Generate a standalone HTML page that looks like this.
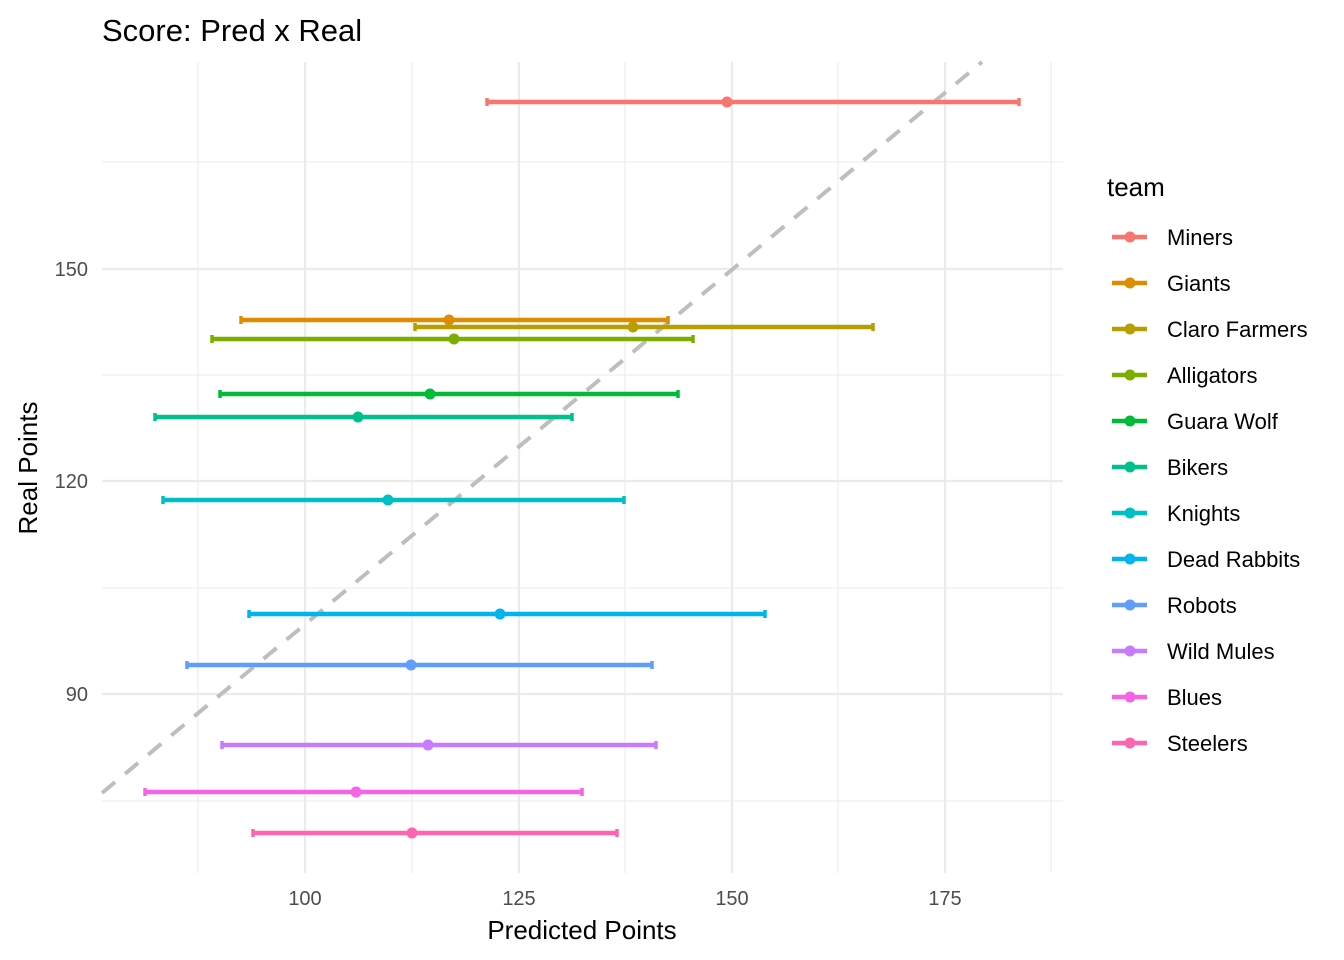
<!DOCTYPE html>
<html><head><meta charset="utf-8"><style>
html,body{margin:0;padding:0;background:#fff;}
svg{display:block;font-family:"Liberation Sans",Arial,sans-serif;}
</style></head><body>
<svg width="1344" height="960" viewBox="0 0 1344 960" xmlns="http://www.w3.org/2000/svg">
<rect width="1344" height="960" fill="#fff"/>
<g stroke="#ebebeb" stroke-width="1.1">
<line x1="198" y1="62" x2="198" y2="873"/><line x1="412" y1="62" x2="412" y2="873"/><line x1="625" y1="62" x2="625" y2="873"/><line x1="838" y1="62" x2="838" y2="873"/><line x1="1051" y1="62" x2="1051" y2="873"/>
<line x1="102" y1="162" x2="1063" y2="162"/><line x1="102" y1="375" x2="1063" y2="375"/><line x1="102" y1="588" x2="1063" y2="588"/><line x1="102" y1="801" x2="1063" y2="801"/>
</g>
<g stroke="#ebebeb" stroke-width="2.2">
<line x1="305" y1="62" x2="305" y2="873"/><line x1="519" y1="62" x2="519" y2="873"/><line x1="732" y1="62" x2="732" y2="873"/><line x1="945" y1="62" x2="945" y2="873"/>
<line x1="102" y1="269" x2="1063" y2="269"/><line x1="102" y1="481" x2="1063" y2="481"/><line x1="102" y1="694" x2="1063" y2="694"/>
</g>
<line x1="102" y1="793" x2="982" y2="62" stroke="#bebebe" stroke-width="4" stroke-dasharray="17,13"/>
<g stroke-width="4.5">
<g stroke="#F8766D" fill="#F8766D"><line x1="487" y1="102" x2="1019" y2="102"/><line x1="487" y1="98" x2="487" y2="106" stroke-width="3.5"/><line x1="1019" y1="98" x2="1019" y2="106" stroke-width="3.5"/><circle cx="727" cy="102" r="5.5" stroke="none"/></g>
<g stroke="#DE8C00" fill="#DE8C00"><line x1="241" y1="320" x2="668" y2="320"/><line x1="241" y1="316" x2="241" y2="324" stroke-width="3.5"/><line x1="668" y1="316" x2="668" y2="324" stroke-width="3.5"/><circle cx="449" cy="320" r="5.5" stroke="none"/></g>
<g stroke="#B79F00" fill="#B79F00"><line x1="415" y1="327" x2="873" y2="327"/><line x1="415" y1="323" x2="415" y2="331" stroke-width="3.5"/><line x1="873" y1="323" x2="873" y2="331" stroke-width="3.5"/><circle cx="633" cy="327" r="5.5" stroke="none"/></g>
<g stroke="#7CAE00" fill="#7CAE00"><line x1="212" y1="339" x2="693" y2="339"/><line x1="212" y1="335" x2="212" y2="343" stroke-width="3.5"/><line x1="693" y1="335" x2="693" y2="343" stroke-width="3.5"/><circle cx="454" cy="339" r="5.5" stroke="none"/></g>
<g stroke="#00BA38" fill="#00BA38"><line x1="220" y1="394" x2="678" y2="394"/><line x1="220" y1="390" x2="220" y2="398" stroke-width="3.5"/><line x1="678" y1="390" x2="678" y2="398" stroke-width="3.5"/><circle cx="430" cy="394" r="5.5" stroke="none"/></g>
<g stroke="#00C08B" fill="#00C08B"><line x1="155" y1="417" x2="572" y2="417"/><line x1="155" y1="413" x2="155" y2="421" stroke-width="3.5"/><line x1="572" y1="413" x2="572" y2="421" stroke-width="3.5"/><circle cx="358" cy="417" r="5.5" stroke="none"/></g>
<g stroke="#00BFC4" fill="#00BFC4"><line x1="163" y1="500" x2="624" y2="500"/><line x1="163" y1="496" x2="163" y2="504" stroke-width="3.5"/><line x1="624" y1="496" x2="624" y2="504" stroke-width="3.5"/><circle cx="388" cy="500" r="5.5" stroke="none"/></g>
<g stroke="#00B4F0" fill="#00B4F0"><line x1="249" y1="614" x2="765" y2="614"/><line x1="249" y1="610" x2="249" y2="618" stroke-width="3.5"/><line x1="765" y1="610" x2="765" y2="618" stroke-width="3.5"/><circle cx="500" cy="614" r="5.5" stroke="none"/></g>
<g stroke="#619CFF" fill="#619CFF"><line x1="187" y1="665" x2="652" y2="665"/><line x1="187" y1="661" x2="187" y2="669" stroke-width="3.5"/><line x1="652" y1="661" x2="652" y2="669" stroke-width="3.5"/><circle cx="411" cy="665" r="5.5" stroke="none"/></g>
<g stroke="#C77CFF" fill="#C77CFF"><line x1="222" y1="745" x2="656" y2="745"/><line x1="222" y1="741" x2="222" y2="749" stroke-width="3.5"/><line x1="656" y1="741" x2="656" y2="749" stroke-width="3.5"/><circle cx="428" cy="745" r="5.5" stroke="none"/></g>
<g stroke="#F564E3" fill="#F564E3"><line x1="145" y1="792" x2="582" y2="792"/><line x1="145" y1="788" x2="145" y2="796" stroke-width="3.5"/><line x1="582" y1="788" x2="582" y2="796" stroke-width="3.5"/><circle cx="356" cy="792" r="5.5" stroke="none"/></g>
<g stroke="#FF64B0" fill="#FF64B0"><line x1="253" y1="833" x2="617" y2="833"/><line x1="253" y1="829" x2="253" y2="837" stroke-width="3.5"/><line x1="617" y1="829" x2="617" y2="837" stroke-width="3.5"/><circle cx="412" cy="833" r="5.5" stroke="none"/></g>
</g>
<g font-size="20" fill="#4d4d4d" text-anchor="middle">
<text x="305" y="905">100</text><text x="519" y="905">125</text><text x="732" y="905">150</text><text x="945" y="905">175</text>
</g>
<g font-size="20" fill="#4d4d4d" text-anchor="end">
<text x="88" y="276">150</text><text x="88" y="488">120</text><text x="88" y="701">90</text>
</g>
<text x="582" y="939" font-size="26" text-anchor="middle" fill="#000">Predicted Points</text>
<text transform="translate(37,468) rotate(-90)" font-size="26" text-anchor="middle" fill="#000">Real Points</text>
<text x="102" y="41" font-size="31" fill="#000">Score: Pred x Real</text>
<text x="1107" y="196" font-size="26" fill="#000">team</text>
<g font-size="22" fill="#000" stroke-width="4.5">
<g transform="translate(0,237)"><line x1="1112" x2="1147" stroke="#F8766D"/><circle cx="1130" r="5.5" fill="#F8766D"/><text x="1167" y="8">Miners</text></g>
<g transform="translate(0,283)"><line x1="1112" x2="1147" stroke="#DE8C00"/><circle cx="1130" r="5.5" fill="#DE8C00"/><text x="1167" y="8">Giants</text></g>
<g transform="translate(0,329)"><line x1="1112" x2="1147" stroke="#B79F00"/><circle cx="1130" r="5.5" fill="#B79F00"/><text x="1167" y="8">Claro Farmers</text></g>
<g transform="translate(0,375)"><line x1="1112" x2="1147" stroke="#7CAE00"/><circle cx="1130" r="5.5" fill="#7CAE00"/><text x="1167" y="8">Alligators</text></g>
<g transform="translate(0,421)"><line x1="1112" x2="1147" stroke="#00BA38"/><circle cx="1130" r="5.5" fill="#00BA38"/><text x="1167" y="8">Guara Wolf</text></g>
<g transform="translate(0,467)"><line x1="1112" x2="1147" stroke="#00C08B"/><circle cx="1130" r="5.5" fill="#00C08B"/><text x="1167" y="8">Bikers</text></g>
<g transform="translate(0,513)"><line x1="1112" x2="1147" stroke="#00BFC4"/><circle cx="1130" r="5.5" fill="#00BFC4"/><text x="1167" y="8">Knights</text></g>
<g transform="translate(0,559)"><line x1="1112" x2="1147" stroke="#00B4F0"/><circle cx="1130" r="5.5" fill="#00B4F0"/><text x="1167" y="8">Dead Rabbits</text></g>
<g transform="translate(0,605)"><line x1="1112" x2="1147" stroke="#619CFF"/><circle cx="1130" r="5.5" fill="#619CFF"/><text x="1167" y="8">Robots</text></g>
<g transform="translate(0,651)"><line x1="1112" x2="1147" stroke="#C77CFF"/><circle cx="1130" r="5.5" fill="#C77CFF"/><text x="1167" y="8">Wild Mules</text></g>
<g transform="translate(0,697)"><line x1="1112" x2="1147" stroke="#F564E3"/><circle cx="1130" r="5.5" fill="#F564E3"/><text x="1167" y="8">Blues</text></g>
<g transform="translate(0,743)"><line x1="1112" x2="1147" stroke="#FF64B0"/><circle cx="1130" r="5.5" fill="#FF64B0"/><text x="1167" y="8">Steelers</text></g>
</g>
</svg>
</body></html>
